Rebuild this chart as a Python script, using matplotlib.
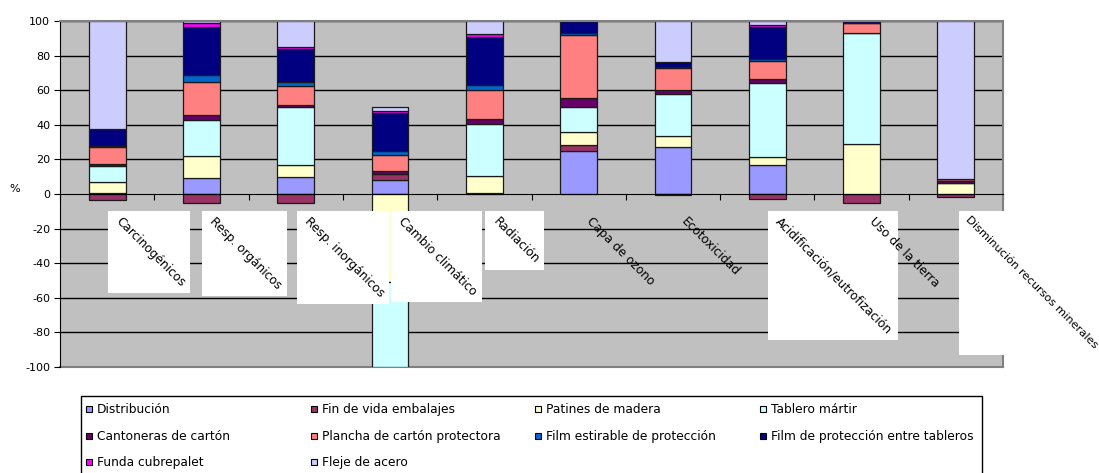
import numpy as np
import matplotlib
matplotlib.use("Agg")
import matplotlib.pyplot as plt
from matplotlib.patches import Rectangle
from matplotlib.transforms import offset_copy

plt.rcParams['font.family'] = ['DejaVu Sans']

# Impact categories (x axis)
categories = ["Carcinogénicos", "Resp. orgánicos", "Resp. inorgánicos",
              "Cambio climático", "Radiación", "Capa de ozono", "Ecotoxicidad",
              "Acidificación/eutrofización", "Uso de la tierra",
              "Disminución recursos minerales"]

# Contribution of each stage (%)
distribucion    = [0.5, 9.1, 9.7, 8.1, 0.3, 25.0, 26.9, 16.9, 0.0, 0.0]
fin_vida        = [-3.5, -5.4, -5.4, 3.5, 0.0, 3.1, -0.5, -2.7, -5.4, -1.9]
patines         = [6.7, 13.0, 7.2, -51.0, 10.2, 7.8, 6.4, 4.5, 28.9, 6.6]
tablero         = [8.7, 20.5, 33.5, -49.0, 30.2, 14.5, 24.6, 43.0, 64.1, 0.0]
cantoneras      = [1.5, 2.9, 1.3, 1.8, 2.9, 5.2, 2.1, 1.9, 0.3, 1.0]
plancha         = [10.0, 19.4, 10.7, 9.3, 16.3, 36.3, 13.0, 10.3, 5.6, 1.2]
film_estirable  = [0.5, 3.9, 2.5, 2.3, 3.1, 1.2, 0.6, 1.7, 0.0, 0.0]
film_proteccion = [9.4, 27.5, 18.8, 21.9, 27.5, 6.9, 2.9, 18.0, 1.1, 0.0]
funda           = [0.0, 2.5, 1.2, 0.8, 1.9, 0.0, 0.0, 1.4, 0.0, 0.0]
fleje           = [62.7, 1.2, 15.1, 2.7, 7.6, 0.0, 23.5, 2.3, 0.0, 91.2]

series_names = ["Distribución", "Fin de vida embalajes", "Patines de madera",
                "Tablero mártir", "Cantoneras de cartón",
                "Plancha de cartón protectora", "Film estirable de protección",
                "Film de protección entre tableros", "Funda cubrepalet",
                "Fleje de acero"]
series_values = [distribucion, fin_vida, patines, tablero, cantoneras, plancha,
                 film_estirable, film_proteccion, funda, fleje]
series_colors = ["#9999FF", "#993366", "#FFFFCC", "#CCFFFF", "#660066",
                 "#FF8080", "#0066CC", "#000080", "#FF00FF", "#CCCCFF"]

y_ticks = [-100, -80, -60, -40, -20, 0, 20, 40, 60, 80, 100]

# which category labels sit on a white panel, and their font sizes
label_panel = [True, True, True, True, True, False, False, True, False, True]
label_size = [8.7, 8.7, 8.7, 8.7, 8.7, 8.7, 8.7, 8.7, 8.7, 8.2]

W, H = 1099, 473
fig = plt.figure(figsize=(W / 100, H / 100), dpi=100)
fig.patch.set_facecolor("white")
ax = fig.add_axes([60 / W, 106 / H, 943 / W, 346 / H])
ax.set_facecolor("#C0C0C0")
ax.set_xlim(-0.5, len(categories) - 0.5)
ax.set_ylim(-100, 100)

# horizontal gridlines
for v in y_ticks:
    if v not in (0, -100):
        ax.axhline(v, color="black", lw=1.0, zorder=0.5)
ax.axhline(-100, color="#808080", lw=1.5, zorder=0.6, clip_on=False)

# stacked bars: positives grow up from 0, negatives grow down from 0
x = np.arange(len(categories))
pos_base = np.zeros(len(categories))
neg_base = np.zeros(len(categories))
for name, vals, col in zip(series_names, series_values, series_colors):
    vals = np.asarray(vals, dtype=float)
    bottom = np.where(vals >= 0, pos_base, neg_base)
    ax.bar(x, vals, width=0.39, bottom=bottom, color=col,
           edgecolor="#1a1a1a", linewidth=0.9, zorder=2)
    pos_base += np.where(vals > 0, vals, 0)
    neg_base += np.where(vals < 0, vals, 0)

# axes styling
for s in ("top", "right"):
    ax.spines[s].set_color("#808080")
    ax.spines[s].set_linewidth(1.5)
ax.spines["left"].set_color("black")
ax.spines["bottom"].set_position(("data", 0))
ax.spines["bottom"].set_color("black")
ax.spines["bottom"].set_zorder(3)
ax.set_yticks(y_ticks)
ax.set_yticklabels([str(v) for v in y_ticks])
ax.tick_params(axis="y", direction="out", length=4, labelsize=8, pad=3)
ax.set_xticks(np.arange(-0.5, len(categories), 1.0))
ax.tick_params(axis="x", direction="out", length=4, labelbottom=False)
ax.set_ylabel("%", rotation=0, fontsize=8)
ax.yaxis.set_label_coords(-0.048, 0.5)

# rotated category labels, starting just right of each category centre
label_shift = offset_copy(ax.transData, fig=fig, x=15, y=0, units="dots")
texts = []
for i, (lab, fs) in enumerate(zip(categories, label_size)):
    t = ax.text(i, -12, lab, transform=label_shift, rotation=-45,
                rotation_mode="anchor", ha="left", va="top", fontsize=fs,
                zorder=6, clip_on=False)
    texts.append(t)

fig.canvas.draw()
renderer = fig.canvas.get_renderer()
inv = fig.transFigure.inverted()
for t, panel in zip(texts, label_panel):
    if panel:
        bb = t.get_window_extent(renderer)
        x0, y0 = inv.transform((bb.x0 - 5, bb.y0 - 4))
        x1, y1 = inv.transform((bb.x1 + 3, bb.y1 + 4))
        fig.add_artist(Rectangle((x0, y0), x1 - x0, y1 - y0,
                                 transform=fig.transFigure, facecolor="white",
                                 edgecolor="none", zorder=5))
    # every label is drawn above the white panels
    t.set_zorder(7)
    t.remove()
    fig.add_artist(t)

# legend box
def fx(px):
    return px / W


def fy(py):
    return 1 - py / H


fig.add_artist(Rectangle((fx(81), fy(480)), fx(982) - fx(81), fy(396) - fy(480),
                         transform=fig.transFigure, facecolor="white",
                         edgecolor="black", lw=1.0, zorder=1))
col_x = [86, 311, 535, 760]
row_y = [409, 436, 462]
for k, (name, col) in enumerate(zip(series_names, series_colors)):
    r, c = divmod(k, 4)
    sx, sy = col_x[c], row_y[r]
    fig.add_artist(Rectangle((fx(sx), fy(sy + 3)), fx(6), 6 / H,
                             transform=fig.transFigure, facecolor=col,
                             edgecolor="black", lw=0.8, zorder=2))
    fig.text(fx(sx + 11), fy(sy), name, fontsize=8.8, va="center", ha="left",
             zorder=3)

fig.savefig("out.png", dpi=100, facecolor="white")
